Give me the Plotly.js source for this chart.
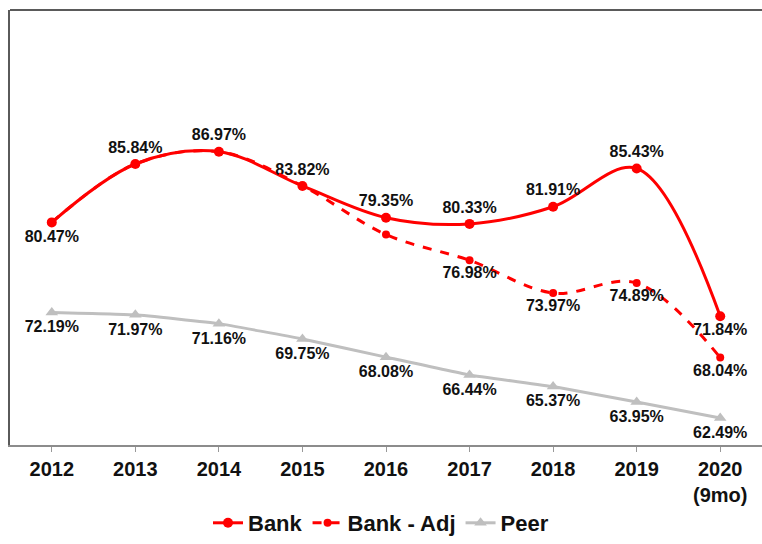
<!DOCTYPE html>
<html>
<head>
<meta charset="utf-8">
<script src="https://cdn.plot.ly/plotly-3.0.1.min.js"></script>
<style>html,body{margin:0;padding:0;background:#fff;}#chart{width:762px;height:544px;}</style>
</head>
<body>
<div id="chart"></div>
<script>
const categories = ['2012','2013','2014','2015','2016','2017','2018','2019','2020'];
const tickLabels = ['2012','2013','2014','2015','2016','2017','2018','2019','2020<br>(9mo)'];

const bankValues = [80.47, 85.84, 86.97, 83.82, 80.90, 80.33, 81.91, 85.43, 71.84];
const bankLabels = ['80.47%','85.84%','86.97%','83.82%','79.35%','80.33%','81.91%','85.43%','71.84%'];
const bankLabelPos = ['bottom center','top center','top center','top center','top center','top center','top center','top center','bottom center'];

const adjValues = [80.47, 85.84, 86.97, 83.82, 79.35, 76.98, 73.97, 74.89, 68.04];
const adjLabels = ['','','','','','76.98%','73.97%','74.89%','68.04%'];

const peerValues = [72.19, 71.97, 71.16, 69.75, 68.08, 66.44, 65.37, 63.95, 62.49];
const peerLabels = peerValues.map(v => v.toFixed(2) + '%');

const labelFont = {family: 'Liberation Sans, Arial, sans-serif', size: 16, color: '#111', weight: 'bold'};

const traces = [
  {
    name: 'Bank', x: categories, y: bankValues, type: 'scatter', mode: 'lines+markers+text',
    line: {color: '#FF0000', width: 3, shape: 'spline', smoothing: 1},
    marker: {color: '#FF0000', size: 10, symbol: 'circle'},
    text: bankLabels, textposition: bankLabelPos, textfont: labelFont, cliponaxis: false
  },
  {
    name: 'Bank - Adj', x: categories, y: adjValues, type: 'scatter', mode: 'lines+markers+text',
    line: {color: '#FF0000', width: 3, dash: 'dash', shape: 'spline', smoothing: 1},
    marker: {color: '#FF0000', size: 8, symbol: 'circle'},
    text: adjLabels, textposition: 'bottom center', textfont: labelFont, cliponaxis: false
  },
  {
    name: 'Peer', x: categories, y: peerValues, type: 'scatter', mode: 'lines+markers+text',
    line: {color: '#BFBFBF', width: 3, shape: 'spline', smoothing: 0.3},
    marker: {color: '#BFBFBF', size: 11, symbol: 'triangle-up'},
    text: peerLabels, textposition: 'bottom center', textfont: labelFont, cliponaxis: false
  }
];

const layout = {
  width: 762, height: 544,
  margin: {l: 10, r: 0, t: 10, b: 99},
  paper_bgcolor: '#fff', plot_bgcolor: '#fff',
  showlegend: true,
  hovermode: false,
  xaxis: {
    type: 'category', range: [-0.5, 8.5], automargin: false,
    tickvals: categories, ticktext: tickLabels,
    ticks: 'outside', ticklen: 5, tickcolor: '#999', tickwidth: 1,
    showline: true, linecolor: '#8c8c8c', linewidth: 2,
    showgrid: false, zeroline: false,
    tickfont: {family: 'Liberation Sans, Arial, sans-serif', size: 20, color: '#111', weight: 'bold'}
  },
  yaxis: {
    range: [60, 100], showticklabels: false, ticks: '', automargin: false,
    showgrid: false, zeroline: false,
    showline: true, linecolor: '#5a5a5a', linewidth: 2
  },
  shapes: [
    {type: 'line', xref: 'paper', yref: 'paper', x0: 0, x1: 1, y0: 1, y1: 1,
     line: {color: '#5a5a5a', width: 2}}
  ],
  legend: {
    orientation: 'h', x: 0.5, xanchor: 'center', xref: 'container',
    y: 0, yanchor: 'bottom', yref: 'container',
    font: {family: 'Liberation Sans, Arial, sans-serif', size: 22, color: '#111', weight: 'bold'},
    itemwidth: 30, tracegroupgap: 0
  }
};

Plotly.newPlot('chart', traces, layout, {displayModeBar: false, staticPlot: true});
</script>
</body>
</html>
